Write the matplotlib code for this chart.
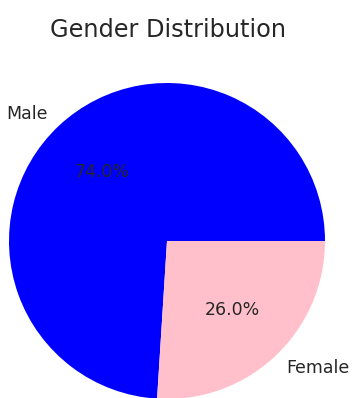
import matplotlib.pyplot as plt

labels = ['Male', 'Female']
shares = [74.0, 26.0]
colors = ['blue', 'pink']

fig = plt.figure(figsize=(3.52, 3.98), dpi=100)
ax = fig.add_axes([0, 0, 1, 1])

# pie centre at about (167, 241) px, radius about 158 px
cx, cy, r = 167, 241, 158
ax.pie(shares, labels=labels, colors=colors, autopct='%1.1f%%',
       textprops={'fontsize': 12.5, 'color': '#262626'})
ax.set_aspect('auto')
ax.set_xlim(-cx / r, (352 - cx) / r)
ax.set_ylim(-(398 - cy) / r, cy / r)
ax.axis('off')

fig.text(168 / 352, 1 - 30 / 398, 'Gender Distribution', ha='center', va='center',
         fontsize=17.3, color='#262626')

fig.savefig('out.png', dpi=100)
